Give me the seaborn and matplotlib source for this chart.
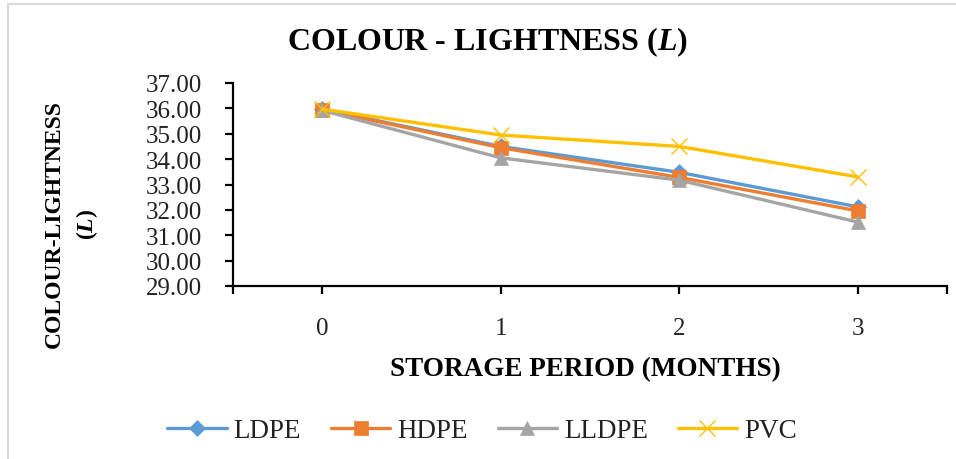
import matplotlib
matplotlib.use("Agg")
import matplotlib.pyplot as plt
from matplotlib.patches import Rectangle
import seaborn as sns
import pandas as pd

# Storage period (months) and colour-lightness readings per packaging film
months = [0, 1, 2, 3]
ldpe = [35.97, 34.50, 33.48, 32.12]
hdpe = [35.95, 34.45, 33.28, 31.96]
lldpe = [35.92, 34.05, 33.17, 31.52]
pvc = [35.97, 34.95, 34.50, 33.30]

series_names = ["LDPE", "HDPE", "LLDPE", "PVC"]
series_values = [ldpe, hdpe, lldpe, pvc]
y_ticks = [29, 30, 31, 32, 33, 34, 35, 36, 37]

colors = {"LDPE": "#5B9BD5", "HDPE": "#ED7D31", "LLDPE": "#A5A5A5", "PVC": "#FFC000"}
markers = {"LDPE": "D", "HDPE": "s", "LLDPE": "^", "PVC": "x"}
msizes = {"LDPE": 8, "HDPE": 9.5, "LLDPE": 10, "PVC": 11}

df = pd.concat(
    [pd.DataFrame({"month": months, "L": vals, "film": name})
     for name, vals in zip(series_names, series_values)],
    ignore_index=True,
)

sns.set_theme(style="white")
plt.rcParams["font.family"] = ["Liberation Serif", "DejaVu Serif"]
plt.rcParams["mathtext.fontset"] = "custom"
plt.rcParams["mathtext.rm"] = "Liberation Serif"
plt.rcParams["mathtext.it"] = "Liberation Serif:italic:bold"
plt.rcParams["mathtext.bf"] = "Liberation Serif:bold"

W, H = 956, 460
fig = plt.figure(figsize=(W / 100, H / 100), dpi=100)
fig.patch.set_facecolor("white")

# outer chart frame
fig.patches.append(Rectangle((8 / W, -0.1), 1.2, 1 - 5 / H + 0.1,
                             transform=fig.transFigure, fill=False,
                             edgecolor="#D9D9D9", linewidth=1.5))

left, right, top, bottom = 233, 947, 84, 287
ax = fig.add_axes([left / W, 1 - bottom / H, (right - left) / W, (bottom - top) / H])

for name in series_names:
    sub = df[df["film"] == name]
    sns.lineplot(
        data=sub, x="month", y="L", ax=ax, color=colors[name], label=name,
        linewidth=2.4, marker=markers[name], markersize=msizes[name],
        markeredgewidth=1.0 if name == "PVC" else 0.5,
        markeredgecolor=colors[name], markerfacecolor=colors[name],
        legend=False,
    )

ax.set_xlim(-0.5, 3.5)
ax.set_ylim(29, 37)
ax.set_yticks(y_ticks)
ax.set_yticklabels([f"{v:.2f}" for v in y_ticks])
ax.set_xticks(months)
ax.set_xticklabels([str(m) for m in months])
ax.set_xticks([-0.5, 3.5], minor=True)

for side in ["top", "right"]:
    ax.spines[side].set_visible(False)
for side in ["left", "bottom"]:
    ax.spines[side].set_color("black")
    ax.spines[side].set_linewidth(1.6)

ax.tick_params(axis="y", which="major", direction="out", length=6, width=1.6,
               color="black", labelsize=18, pad=16, left=True, labelcolor="#222222")
ax.tick_params(axis="x", which="both", direction="out", length=6, width=1.6,
               color="black", labelsize=18, pad=16, bottom=True, labelcolor="#222222")
ax.set_xlabel("")
ax.set_ylabel("")
ax.grid(False)

fig.text(487 / W, 1 - 42 / H, r"COLOUR - LIGHTNESS ($L$)", ha="center", va="center",
         fontsize=23, fontweight="bold", color="black")
fig.text(585 / W, 1 - 370 / H, "STORAGE PERIOD (MONTHS)", ha="center", va="center",
         fontsize=19.5, fontweight="bold", color="black")
fig.text(72 / W, 1 - 224 / H, "COLOUR-LIGHTNESS\n" + r"($L$)", ha="center", va="center",
         rotation=90, fontsize=17, fontweight="bold", color="black",
         multialignment="center", linespacing=1.45)

handles, labels = ax.get_legend_handles_labels()
leg = fig.legend(handles, labels, loc="center", ncol=4,
                 bbox_to_anchor=(482 / W, 1 - 432 / H), frameon=False,
                 fontsize=19.5, handlelength=2.2, columnspacing=1.1,
                 handletextpad=0.25)
for t in leg.get_texts():
    t.set_color("#222222")

fig.savefig("out.png", dpi=100, facecolor="white")
